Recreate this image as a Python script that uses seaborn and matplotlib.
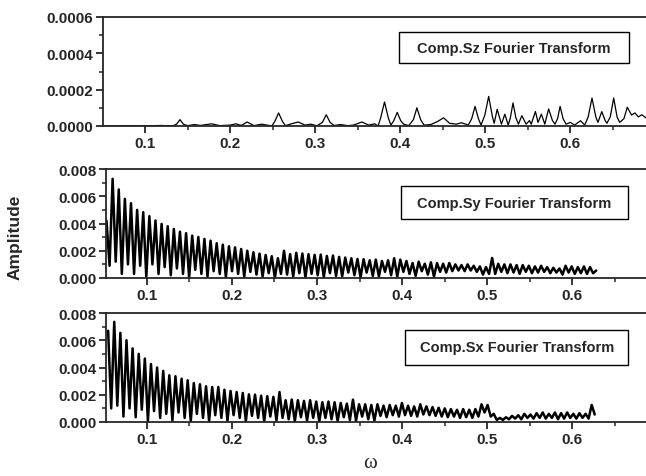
import numpy as np
import pandas as pd
import matplotlib
matplotlib.use("Agg")
import matplotlib.pyplot as plt
from matplotlib.patches import Rectangle
from matplotlib.ticker import MultipleLocator, FormatStrFormatter
import seaborn as sns

# ---- data (amplitudes of Sy / Sx in units of 1e-3) ----
# Sy: regular frequency grid, start point then trough/peak pairs
sy_start, sy_step = 0.0524, 0.0036
sy_first = 4.2
sy_troughs = [0.9, 1.2, 0.3, 1.0, 0.3, 0.9, 0.05, 1.0, 0.3, 0.8,
              0.2, 0.7, 0.3, 0.0, 0.6, 0.3, 0.1, 0.5, 0.3, 0.05,
              0.5, 0.3, 0.1, 0.45, 0.25, 0.1, 0.35, 0.0, 0.3, 0.25,
              0.1, 0.35, 0.05, 0.3, 0.2, 0.05, 0.35, 0.15, 0.1, 0.4,
              0.2, 0.05, 0.4, 0.15, 0.1, 0.45, 0.2, 0.1, 0.45, 0.3,
              0.15, 0.5, 0.25, 0.1, 0.45, 0.4, 0.5, 0.55, 0.5, 0.55,
              0.45, 0.25, 0.3, 0.3, 0.45, 0.35, 0.4, 0.3, 0.45, 0.35,
              0.4, 0.45, 0.35, 0.4, 0.25, 0.4, 0.3, 0.35, 0.3, 0.35]
sy_peaks = [7.28, 6.50, 5.81, 5.49, 5.00, 4.83, 4.54, 4.22, 3.97, 3.80,
            3.60, 3.40, 3.29, 3.11, 3.01, 2.87, 2.74, 2.55, 2.45, 2.33,
            2.25, 2.13, 2.00, 1.89, 1.79, 1.69, 1.60, 1.45, 2.00, 1.75,
            1.85, 1.80, 1.75, 1.70, 1.72, 1.62, 1.65, 1.55, 1.50, 1.45,
            1.40, 1.38, 1.30, 1.35, 1.25, 1.30, 1.45, 1.35, 1.25, 1.10,
            1.20, 1.05, 1.15, 1.10, 1.05, 1.10, 1.00, 0.95, 1.00, 0.90,
            0.85, 0.80, 1.47, 1.05, 1.00, 1.00, 0.95, 0.95, 0.90, 0.85,
            0.90, 0.80, 0.75, 0.70, 0.90, 0.85, 0.80, 0.85, 0.80, 0.55]

# Sx: same kind of grid
sx_start, sx_step = 0.0543, 0.0036
sx_first = 6.7
sx_troughs = [1.0, 1.2, 0.4, 1.0, 0.35, 0.9, 0.05, 0.8, 0.3, 0.6,
              0.1, 0.7, 0.3, 0.05, 0.6, 0.3, 0.05, 0.5, 0.3, 0.1,
              0.5, 0.3, 0.05, 0.45, 0.3, 0.05, 0.4, 0.1, 0.3, 0.2,
              0.05, 0.35, 0.1, 0.3, 0.05, 0.3, 0.2, 0.05, 0.35, 0.15,
              0.1, 0.4, 0.2, 0.1, 0.45, 0.35, 0.5, 0.4, 0.5, 0.45,
              0.4, 0.55, 0.5, 0.45, 0.4, 0.35, 0.4, 0.3, 0.35, 0.3,
              0.4, 0.7, 0.4, 0.15, 0.15, 0.2, 0.25, 0.2, 0.3, 0.25,
              0.3, 0.25, 0.3, 0.2, 0.25, 0.3, 0.25, 0.3, 0.25, 0.55]
sx_peaks = [7.35, 6.54, 6.00, 5.40, 5.00, 4.66, 4.25, 4.00, 3.75, 3.43,
            3.36, 3.18, 3.06, 2.86, 2.77, 2.62, 2.57, 2.57, 2.37, 2.28,
            2.20, 2.13, 2.03, 2.01, 1.93, 1.90, 1.85, 2.20, 1.60, 1.65,
            1.60, 1.55, 1.60, 1.50, 1.45, 1.50, 1.45, 1.40, 1.35, 1.64,
            1.30, 1.30, 1.25, 1.30, 1.20, 1.25, 1.20, 1.40, 1.20, 1.15,
            1.30, 1.15, 1.10, 1.05, 1.00, 0.95, 0.90, 0.95, 0.90, 0.95,
            1.30, 1.25, 0.60, 0.30, 0.35, 0.45, 0.50, 0.60, 0.55, 0.65,
            0.70, 0.60, 0.70, 0.65, 0.70, 0.60, 0.65, 0.60, 1.25]

# Sz: (omega, amplitude in units of 1e-4) pairs
sz_omega = [0.051, 0.080, 0.100, 0.120, 0.132, 0.137, 0.141, 0.145, 0.150, 0.158,
            0.165, 0.178, 0.188, 0.200, 0.207, 0.213, 0.220, 0.228, 0.237, 0.246,
            0.249, 0.2525, 0.257, 0.2615, 0.265, 0.272, 0.280, 0.288, 0.295, 0.302,
            0.3085, 0.313, 0.3175, 0.322, 0.330, 0.338, 0.345, 0.355, 0.363, 0.370,
            0.374, 0.377, 0.3815, 0.386, 0.389, 0.3925, 0.3965, 0.4005, 0.404, 0.410,
            0.4155, 0.4196, 0.424, 0.428, 0.436, 0.444, 0.451, 0.458, 0.466, 0.472,
            0.480, 0.484, 0.488, 0.492, 0.495, 0.4995, 0.504, 0.5085, 0.5105, 0.514,
            0.519, 0.523, 0.527, 0.5295, 0.5326, 0.536, 0.539, 0.543, 0.548, 0.552,
            0.554, 0.559, 0.562, 0.566, 0.570, 0.5745, 0.579, 0.582, 0.585, 0.588,
            0.5915, 0.595, 0.600, 0.605, 0.612, 0.617, 0.621, 0.6255, 0.630, 0.6325,
            0.637, 0.641, 0.643, 0.647, 0.651, 0.655, 0.658, 0.663, 0.667, 0.672,
            0.676, 0.680, 0.684, 0.689]
sz_amp = [0.0, 0.02, 0.01, 0.03, 0.0, 0.10, 0.35, 0.10, 0.02, 0.08,
          0.03, 0.12, 0.02, 0.05, 0.12, 0.03, 0.22, 0.02, 0.10, 0.03,
          0.0, 0.25, 0.72, 0.25, 0.02, 0.12, 0.22, 0.05, 0.10, 0.01,
          0.20, 0.62, 0.20, 0.03, 0.08, 0.02, 0.05, 0.22, 0.05, 0.12,
          0.0, 0.45, 1.32, 0.45, 0.05, 0.30, 0.75, 0.30, 0.10, 0.02,
          0.35, 1.00, 0.35, 0.05, 0.08, 0.25, 0.45, 0.15, 0.10, 0.18,
          0.05, 0.40, 1.08, 0.40, 0.05, 0.60, 1.63, 0.50, 0.15, 0.92,
          0.10, 0.65, 0.05, 0.45, 1.27, 0.45, 0.10, 0.57, 0.10, 0.30,
          0.10, 0.80, 0.20, 0.65, 0.10, 0.94, 0.30, 0.10, 0.40, 1.08,
          0.40, 0.10, 0.20, 0.05, 0.29, 0.05, 0.50, 1.54, 0.50, 0.20,
          0.79, 0.30, 0.15, 0.50, 1.54, 0.50, 0.20, 0.40, 1.03, 0.60,
          0.72, 0.50, 0.62, 0.45]

titles = ["Comp.Sz Fourier Transform", "Comp.Sy Fourier Transform",
          "Comp.Sx Fourier Transform"]


def build(start, step, first, troughs, peaks):
    vals = [first]
    for i, t in enumerate(troughs):
        vals.append(t)
        if i < len(peaks):
            vals.append(peaks[i])
    om = start + step * np.arange(len(vals))
    return pd.DataFrame({"omega": om, "amp": np.array(vals) * 1e-3})


sy = build(sy_start, sy_step, sy_first, sy_troughs, sy_peaks)
sx = build(sx_start, sx_step, sx_first, sx_troughs, sx_peaks)
sz = pd.DataFrame({"omega": sz_omega, "amp": np.array(sz_amp) * 1e-4})

sns.set_style("ticks")
plt.rcParams["font.family"] = ["Liberation Sans", "DejaVu Sans"]
plt.rcParams["font.weight"] = "bold"
plt.rcParams["axes.linewidth"] = 1.3

fig = plt.figure(figsize=(6.46, 4.77), dpi=100)
H = 109 / 477
ax_z = fig.add_axes([103 / 646, (477 - 127) / 477, 1 - 103 / 646, H])
ax_y = fig.add_axes([106 / 646, (477 - 279) / 477, 1 - 106 / 646, H])
ax_x = fig.add_axes([106 / 646, (477 - 423) / 477, 1 - 106 / 646, H])

sns.lineplot(data=sz, x="omega", y="amp", ax=ax_z, color="black", lw=0.9,
             estimator=None, sort=False)
sns.lineplot(data=sy, x="omega", y="amp", ax=ax_y, color="black", lw=1.8,
             estimator=None, sort=False)
sns.lineplot(data=sx, x="omega", y="amp", ax=ax_x, color="black", lw=1.8,
             estimator=None, sort=False)

boxes = [(0.545, 0.578, 0.424, 0.284), (0.546, 0.541, 0.421, 0.303),
         (0.554, 0.523, 0.413, 0.321)]

for ax, title, box in zip([ax_z, ax_y, ax_x], titles, boxes):
    ax.spines["right"].set_visible(False)
    ax.set_xlabel("")
    ax.set_ylabel("")
    ax.xaxis.set_major_locator(MultipleLocator(0.1))
    ax.xaxis.set_minor_locator(MultipleLocator(0.05))
    ax.xaxis.set_major_formatter(FormatStrFormatter("%.1f"))
    ax.tick_params(which="major", direction="out", length=5, width=1.3,
                   labelsize=11, pad=2, top=False, right=False)
    ax.tick_params(which="minor", direction="out", length=3, width=1.1,
                   top=False, right=False)
    x0, y0, w, h = box
    ax.add_patch(Rectangle((x0, y0), w, h, transform=ax.transAxes,
                           fill=False, lw=1.0, ec="black"))
    ax.text(x0 + w / 2, y0 + h / 2, title, transform=ax.transAxes,
            ha="center", va="center", fontsize=10.5, fontweight="bold")

ax_z.set_xlim(0.0505, 0.689)
ax_z.set_ylim(0, 0.0006)
ax_z.yaxis.set_major_locator(MultipleLocator(0.0002))
ax_z.yaxis.set_minor_locator(MultipleLocator(0.0001))
ax_z.yaxis.set_major_formatter(FormatStrFormatter("%.4f"))

for ax in (ax_y, ax_x):
    ax.set_xlim(0.0518, 0.687)
    ax.set_ylim(0, 0.008)
    ax.yaxis.set_major_locator(MultipleLocator(0.002))
    ax.yaxis.set_minor_locator(MultipleLocator(0.001))
    ax.yaxis.set_major_formatter(FormatStrFormatter("%.3f"))

fig.text(15 / 646, 1 - 237 / 477, "Amplitude", rotation=90, ha="center",
         va="center", fontsize=12.5, fontweight="bold")
fig.text(370 / 646, 1 - 464 / 477, "ω", ha="center", va="center",
         fontsize=15, fontweight="normal", family=["Liberation Serif", "DejaVu Serif"])

fig.savefig("out.png", dpi=100)
